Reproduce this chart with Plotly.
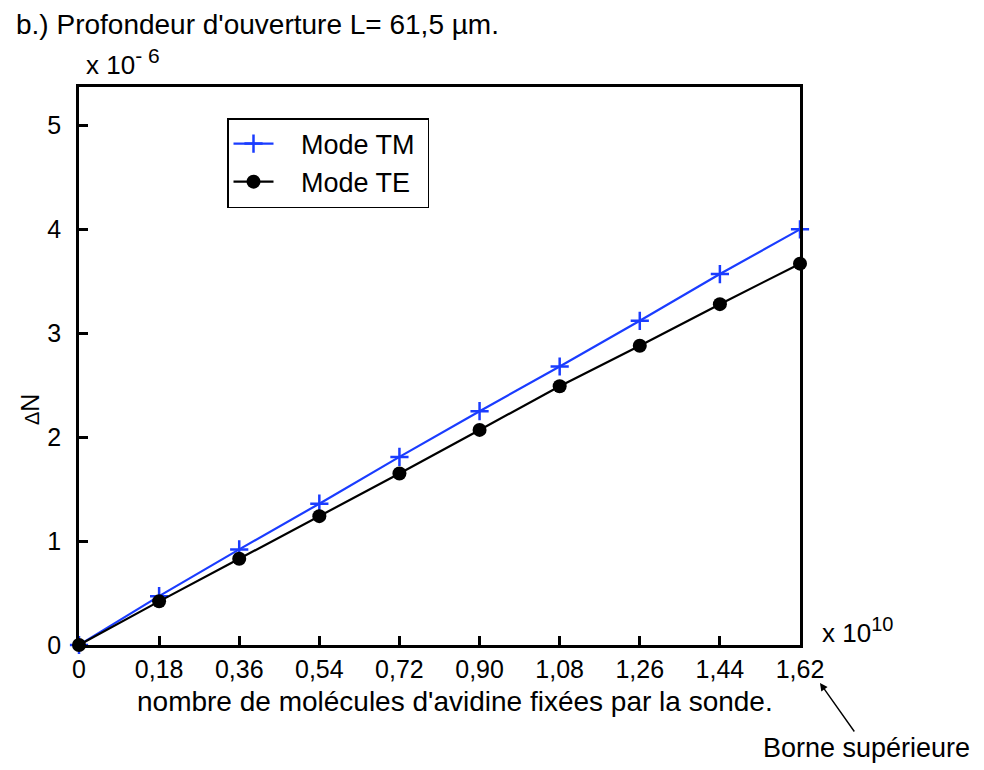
import plotly.graph_objects as go

x_vals = [0, 0.18, 0.36, 0.54, 0.72, 0.90, 1.08, 1.26, 1.44, 1.62]
x_labels = ["0", "0,18", "0,36", "0,54", "0,72", "0,90", "1,08", "1,26", "1,44", "1,62"]
tm_vals = [0, 0.47, 0.92, 1.36, 1.81, 2.25, 2.68, 3.12, 3.57, 4.00]
te_vals = [0, 0.42, 0.83, 1.24, 1.65, 2.07, 2.49, 2.88, 3.28, 3.67]
y_ticks = [0, 1, 2, 3, 4, 5]

FONT = "Liberation Sans, Arial, sans-serif"
BLUE = "#1a3cff"
NB = "\u00a0"

# page body has an 8px margin: figure is drawn 8px right/down
W, H = 976, 762
L, T = 71, 79
PW, PH = 721, 558
R, B = W - L - PW, H - T - PH


def px(xp):
    return (xp - 8 - L) / PW


def py(yp):
    return (T + PH - (yp - 8)) / PH


fig = go.Figure()
fig.add_trace(go.Scatter(
    x=x_vals, y=tm_vals, mode="lines+markers", name=NB * 3 + "Mode TM" + NB,
    line=dict(color=BLUE, width=2.2),
    marker=dict(symbol="cross-thin", size=13, line=dict(color=BLUE, width=2.5), color=BLUE),
    cliponaxis=False,
))
fig.add_trace(go.Scatter(
    x=x_vals, y=te_vals, mode="lines+markers", name=NB * 3 + "Mode TE",
    line=dict(color="black", width=2.2),
    marker=dict(symbol="circle", size=14, color="black"),
    cliponaxis=False,
))

fig.update_layout(
    width=W, height=H,
    margin=dict(l=L, r=R, t=T, b=B),
    paper_bgcolor="white", plot_bgcolor="white",
    font=dict(family=FONT, size=25, color="black"),
    showlegend=True,
    legend=dict(
        x=px(227), y=py(118), xanchor="left", yanchor="top",
        bgcolor="white", bordercolor="black", borderwidth=1.5,
        font=dict(size=27), itemwidth=40, tracegroupgap=0,
    ),
)
fig.update_xaxes(
    range=[0, 1.62], tickvals=x_vals, ticktext=x_labels,
    showline=True, linecolor="black", linewidth=2.8, mirror=True,
    ticks="inside", ticklen=9, tickwidth=2.5, tickcolor="black",
    showgrid=False, zeroline=False, tickfont=dict(size=25),
)
fig.update_yaxes(
    range=[0, 5.37], tickvals=y_ticks, ticktext=[str(v) for v in y_ticks],
    showline=True, linecolor="black", linewidth=2.8, mirror=True,
    ticks="inside", ticklen=9, tickwidth=2.5, tickcolor="black",
    showgrid=False, zeroline=False, tickfont=dict(size=25),
    ticklabelstandoff=10,
)

fig.add_annotation(text="b.) Profondeur d'ouverture L= 61,5 µm.", xref="paper", yref="paper",
                   x=px(14), y=py(25), xanchor="left", yanchor="middle", showarrow=False,
                   font=dict(size=28))
fig.add_annotation(text="x 10<sup><span style='font-size:21px'>- 6</span></sup>", xref="paper", yref="paper",
                   x=px(84), y=py(62), xanchor="left", yanchor="middle", showarrow=False,
                   font=dict(size=26))
fig.add_annotation(text="x 10<sup><span style='font-size:20px'>10</span></sup>", xref="paper", yref="paper",
                   x=px(820), y=py(630), xanchor="left", yanchor="middle", showarrow=False,
                   font=dict(size=26))
fig.add_annotation(text="nombre de molécules d'avidine fixées par la sonde.", xref="paper", yref="paper",
                   x=px(455), y=py(701), xanchor="center", yanchor="middle", showarrow=False,
                   font=dict(size=28))
fig.add_annotation(text="<span style='font-size:20px'>Δ</span>N", xref="paper", yref="paper", textangle=-90,
                   x=px(30), y=py(410), xanchor="center", yanchor="middle", showarrow=False,
                   font=dict(size=25))
fig.add_annotation(text="Borne supérieure", xref="paper", yref="paper",
                   x=px(820), y=py(683), showarrow=True,
                   ax=46, ay=65, axref="pixel", ayref="pixel",
                   arrowhead=2, arrowsize=1.1, arrowwidth=1.4, arrowcolor="black",
                   standoff=0, startstandoff=0,
                   font=dict(size=27))

fig.write_html("out.html")
